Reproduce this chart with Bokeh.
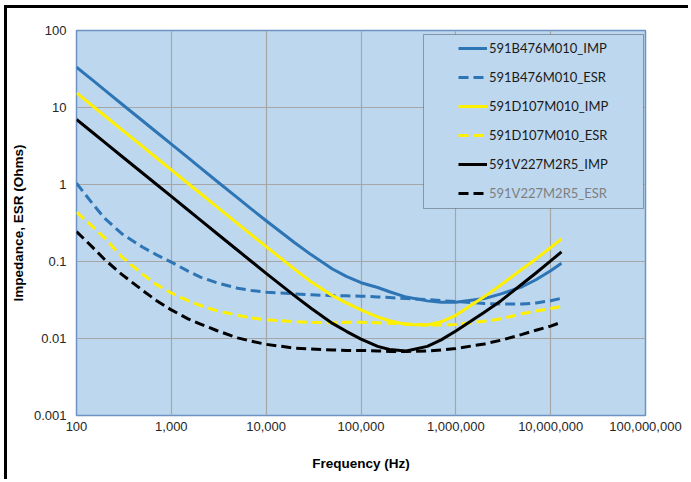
import math
from bokeh.plotting import figure
from bokeh.models import (FixedTicker, NumeralTickFormatter, Legend, LegendItem,
                          BoxAnnotation, Range1d)
from bokeh.embed import file_html
from bokeh.resources import INLINE

# ---------------- data ----------------
freq_hz = [100, 150, 200, 300, 500, 700, 1e3, 1.5e3, 2e3, 3e3, 5e3, 7e3, 1e4, 2e4, 3e4, 5e4,
           7e4, 1e5, 1.5e5, 2e5, 3e5, 5e5, 7e5, 1e6, 2e6, 3e6, 5e6, 7e6, 1e7, 1.3e7]

b476_imp = [33.4, 22.3, 16.7, 11.1, 6.68, 4.77, 3.34, 2.23, 1.67, 1.11, 0.67, 0.48, 0.338, 0.175, 0.122, 0.080,
            0.064, 0.053, 0.046, 0.0405, 0.0345, 0.0308, 0.0295, 0.0295, 0.033, 0.038, 0.047, 0.058, 0.076, 0.095]
b476_esr = [1.04, 0.55, 0.36, 0.23, 0.153, 0.122, 0.098, 0.075, 0.063, 0.053, 0.045, 0.042, 0.040, 0.038, 0.037, 0.036,
            0.0358, 0.0355, 0.0347, 0.034, 0.033, 0.032, 0.031, 0.0303, 0.0285, 0.028, 0.028, 0.029, 0.031, 0.0333]
d107_imp = [15.5, 10.3, 7.75, 5.17, 3.1, 2.21, 1.55, 1.03, 0.775, 0.517, 0.31, 0.222, 0.156, 0.079, 0.054, 0.036,
            0.029, 0.0235, 0.019, 0.017, 0.0152, 0.0150, 0.0165, 0.020, 0.035, 0.050, 0.080, 0.108, 0.152, 0.197]
d107_esr = [0.437, 0.28, 0.20, 0.115, 0.068, 0.050, 0.039, 0.031, 0.027, 0.023, 0.020, 0.0185, 0.0175, 0.0165, 0.0162, 0.016,
            0.0162, 0.0163, 0.016, 0.0158, 0.0155, 0.0150, 0.0150, 0.0152, 0.0168, 0.018, 0.021, 0.0228, 0.0245, 0.026]
v227_imp = [7.0, 4.67, 3.5, 2.33, 1.4, 1.0, 0.70, 0.467, 0.35, 0.233, 0.14, 0.10, 0.070, 0.0357, 0.0245, 0.0157,
            0.0124, 0.0098, 0.0079, 0.0072, 0.0069, 0.0079, 0.0096, 0.0125, 0.022, 0.031, 0.051, 0.071, 0.102, 0.133]
v227_esr = [0.245, 0.15, 0.105, 0.068, 0.042, 0.031, 0.0235, 0.018, 0.0155, 0.0127, 0.0102, 0.0092, 0.0084, 0.0075, 0.0073, 0.0071,
            0.0070, 0.0070, 0.0069, 0.0068, 0.0068, 0.0069, 0.0071, 0.0074, 0.0085, 0.0095, 0.0113, 0.0128, 0.0145, 0.0163]

series_names = ["591B476M010_IMP", "591B476M010_ESR", "591D107M010_IMP",
                "591D107M010_ESR", "591V227M2R5_IMP", "591V227M2R5_ESR"]
series_values = [b476_imp, b476_esr, d107_imp, d107_esr, v227_imp, v227_esr]

x_ticks = [1e2, 1e3, 1e4, 1e5, 1e6, 1e7, 1e8]
y_ticks = [1e-3, 1e-2, 1e-1, 1, 10, 100]
x_title = "Frequency (Hz)"
y_title = "Impedance, ESR (Ohms)"

# ---------------- style ----------------
BLUE = "#2E75B6"
YELLOW = "#FFF000"
BLACK = "#000000"
series_colors = [BLUE, BLUE, YELLOW, YELLOW, BLACK, BLACK]
series_dash = ["solid", "10 5", "solid", "10 5", "solid", "10 5"]

x_min, x_max = x_ticks[0], x_ticks[-1]
y_min, y_max = y_ticks[0], y_ticks[-1]

p = figure(width=684, height=474, x_axis_type="log", y_axis_type="log",
           x_range=Range1d(x_min, x_max), y_range=Range1d(y_min, y_max),
           output_backend="svg", toolbar_location=None,
           min_border_left=69, min_border_right=46, min_border_top=22, min_border_bottom=67)
p.styles = {"border-left": "3px solid #000000", "border-top": "3px solid #000000",
            "margin-left": "4px", "margin-top": "5px"}

p.background_fill_color = "#BDD7EE"
p.border_fill_color = "white"
p.outline_line_color = "#6C93C4"
p.outline_line_width = 1.5

for ax, ticks in ((p.xaxis[0], x_ticks), (p.yaxis[0], y_ticks)):
    ax.ticker = FixedTicker(ticks=ticks)
    ax.axis_line_color = None
    ax.major_tick_line_color = None
    ax.minor_tick_line_color = None
    ax.major_tick_out = 0
    ax.major_tick_in = 0
    ax.minor_tick_out = 0
    ax.minor_tick_in = 0
    ax.major_label_text_font = "Liberation Sans"
    ax.major_label_text_font_size = "13px"
    ax.major_label_text_color = "#262626"
    ax.axis_label_text_font = "Liberation Sans"
    ax.axis_label_text_font_size = "13.5px"
    ax.axis_label_text_font_style = "bold"
    ax.axis_label_text_color = "#000000"

p.xaxis.formatter = NumeralTickFormatter(format="0,0")
p.yaxis.formatter = NumeralTickFormatter(format="0.[000]")
p.xaxis.axis_label = x_title
p.yaxis.axis_label = y_title
p.xaxis.major_label_standoff = 6
p.xaxis.axis_label_standoff = 22
p.yaxis.major_label_standoff = 10
p.yaxis.axis_label_standoff = 5

p.xgrid.grid_line_color = "#A6A6A6"
p.ygrid.grid_line_color = "#A6A6A6"
p.xgrid.grid_line_width = 1.2
p.ygrid.grid_line_width = 1.2

renderers = []
for name, vals, col, dash in zip(series_names, series_values, series_colors, series_dash):
    r = p.line(freq_hz, vals, line_color=col, line_width=3, line_dash=dash,
               line_join="round")
    renderers.append(r)

# legend box (frame-relative position)
lx0, lx1 = math.log10(x_min), math.log10(x_max)
ly0, ly1 = math.log10(y_min), math.log10(y_max)
def fx(f):
    return 10 ** (lx0 + f * (lx1 - lx0))
def fy(f):
    return 10 ** (ly0 + f * (ly1 - ly0))

box = BoxAnnotation(left=fx(0.6098), right=fx(0.9965), bottom=fy(0.5377), top=fy(0.9896),
                    fill_color="#BDD7EE", fill_alpha=1.0,
                    line_color="black", line_width=1, level="annotation")
p.add_layout(box)

def make_legend(items, loc, color):
    lg = Legend(items=items, location=loc, padding=0, margin=0, spacing=9,
                glyph_width=29, glyph_height=20, label_height=20, label_standoff=2,
                border_line_color=None, background_fill_alpha=0,
                label_text_font="Lato", label_text_font_size="13px",
                label_text_color=color)
    return lg

items = [LegendItem(label=n, renderers=[r]) for n, r in zip(series_names, renderers)]
p.add_layout(make_legend(items[:5], (382, 241), "#1A1A1A"))
p.add_layout(make_legend(items[5:], (382, 212), "#7F7F7F"))

open("out.html", "w").write(file_html(p, INLINE))
